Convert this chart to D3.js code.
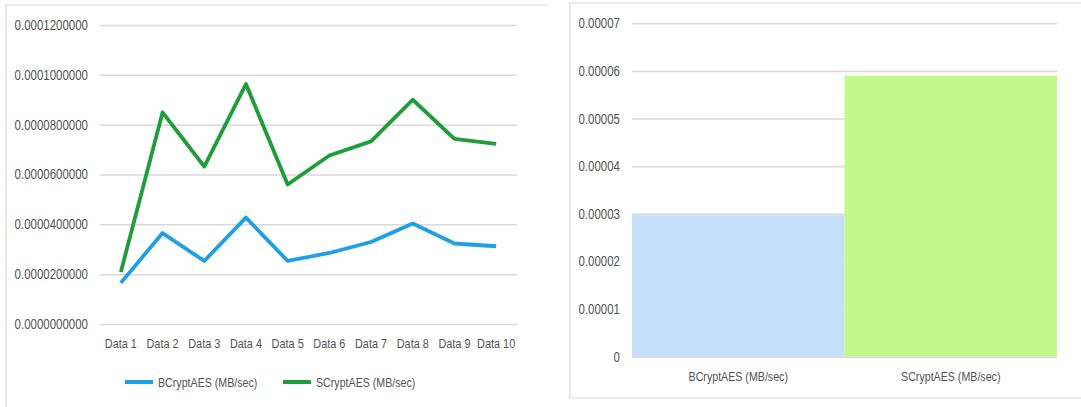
<!DOCTYPE html>
<html>
<head>
<meta charset="utf-8">
<script src="https://cdn.jsdelivr.net/npm/d3@7"></script>
<style>
  body { margin: 0; background: #fff; }
  svg { display: block; font-family: "Liberation Sans", Arial, sans-serif; }
</style>
</head>
<body>
<svg id="chart" width="1081" height="407"></svg>
<script>
const categories = ["Data 1", "Data 2", "Data 3", "Data 4", "Data 5", "Data 6", "Data 7", "Data 8", "Data 9", "Data 10"];
const bcryptValues = [0.0000165, 0.0000365, 0.0000253, 0.0000427, 0.0000253, 0.0000285, 0.0000329, 0.0000403, 0.0000323, 0.0000312];
const scryptValues = [0.0000209, 0.0000849, 0.0000632, 0.0000963, 0.0000560, 0.0000676, 0.0000733, 0.0000900, 0.0000743, 0.0000723];
const seriesNames = ["BCryptAES (MB/sec)", "SCryptAES (MB/sec)"];
const lineTicks = [0, 0.00002, 0.00004, 0.00006, 0.00008, 0.0001, 0.00012];

const barCategories = ["BCryptAES (MB/sec)", "SCryptAES (MB/sec)"];
const barValues = [0.0000297, 0.000059];
const barTicks = [0, 0.00001, 0.00002, 0.00003, 0.00004, 0.00005, 0.00006, 0.00007];

const textColor = "#525252";
const gridColor = "#d9d9d9";
const lineColors = ["#1f9fe6", "#1d9e3a"];
const barColors = ["#c5e0fa", "#c2f98a"];
const squeeze = 0.82; // narrow the glyphs a bit, like the Calibri in the original

const svg = d3.select("#chart");

// panel borders
svg.append("path")
  .attr("d", "M6,410 V5 H548")
  .attr("fill", "none").attr("stroke", gridColor).attr("stroke-width", 1.2);
svg.append("path")
  .attr("d", "M1090,398 H570 V3 H1090")
  .attr("fill", "none").attr("stroke", gridColor).attr("stroke-width", 1.2);

function styleText(sel, size) {
  sel.attr("fill", textColor)
    .attr("font-size", size)
    .attr("x", function () { return (+d3.select(this).attr("x") || 0) / squeeze; })
    .attr("transform", `scale(${squeeze},1)`);
}

// ---- left: line chart
const x1 = d3.scaleBand().domain(categories).range([100, 517]);
const y1 = d3.scaleLinear().domain([0, 0.00012]).range([324, 25]);

const gy1 = svg.append("g")
  .attr("transform", "translate(100,0)")
  .call(d3.axisLeft(y1).tickValues(lineTicks).tickSize(-417).tickPadding(12)
    .tickFormat(d => d.toFixed(10)));
gy1.select(".domain").remove();
gy1.selectAll(".tick line").attr("stroke", gridColor).attr("stroke-width", 1.5);
styleText(gy1.selectAll(".tick text"), 14);

const gx1 = svg.append("g")
  .attr("transform", "translate(0,324)")
  .call(d3.axisBottom(x1).tickSize(0).tickPadding(15));
gx1.select(".domain").remove();
styleText(gx1.selectAll(".tick text"), 13.3);

const line = d3.line()
  .x((d, i) => x1(categories[i]) + x1.bandwidth() / 2)
  .y(d => y1(d));

[bcryptValues, scryptValues].forEach((vals, k) => {
  svg.append("path")
    .datum(vals)
    .attr("d", line)
    .attr("fill", "none")
    .attr("stroke", lineColors[k])
    .attr("stroke-width", 3.8)
    .attr("stroke-linejoin", "round");
});

// legend
const legendX = [125, 283];
seriesNames.forEach((name, k) => {
  const g = svg.append("g").attr("transform", `translate(${legendX[k]},382)`);
  g.append("line").attr("x1", 0).attr("x2", 28).attr("y1", 0).attr("y2", 0)
    .attr("stroke", lineColors[k]).attr("stroke-width", 4);
  g.append("text").attr("x", 33).attr("y", 5).text(name)
    .call(styleText, 13);
});

// ---- right: bar chart
const x2 = d3.scaleBand().domain(barCategories).range([632, 1057]).padding(0);
const y2 = d3.scaleLinear().domain([0, 0.00007]).range([356.7, 23.3]);

const gy2 = svg.append("g")
  .attr("transform", "translate(632,0)")
  .call(d3.axisLeft(y2).tickValues(barTicks).tickSize(-425).tickPadding(12)
    .tickFormat(d => d === 0 ? "0" : d.toFixed(5)));
gy2.select(".domain").remove();
gy2.selectAll(".tick line").attr("stroke", gridColor).attr("stroke-width", 1.5);
styleText(gy2.selectAll(".tick text"), 14);

svg.selectAll("rect.bar")
  .data(barValues)
  .enter()
  .append("rect")
  .attr("class", "bar")
  .attr("x", (d, i) => x2(barCategories[i]))
  .attr("width", x2.bandwidth())
  .attr("y", d => y2(d))
  .attr("height", d => y2(0) - y2(d))
  .attr("fill", (d, i) => barColors[i]);

const gx2 = svg.append("g")
  .attr("transform", `translate(0,${y2(0)})`)
  .call(d3.axisBottom(x2).tickSize(0).tickPadding(15));
gx2.select(".domain").attr("stroke", gridColor).attr("stroke-width", 1.5);
styleText(gx2.selectAll(".tick text"), 13);
</script>
</body>
</html>
